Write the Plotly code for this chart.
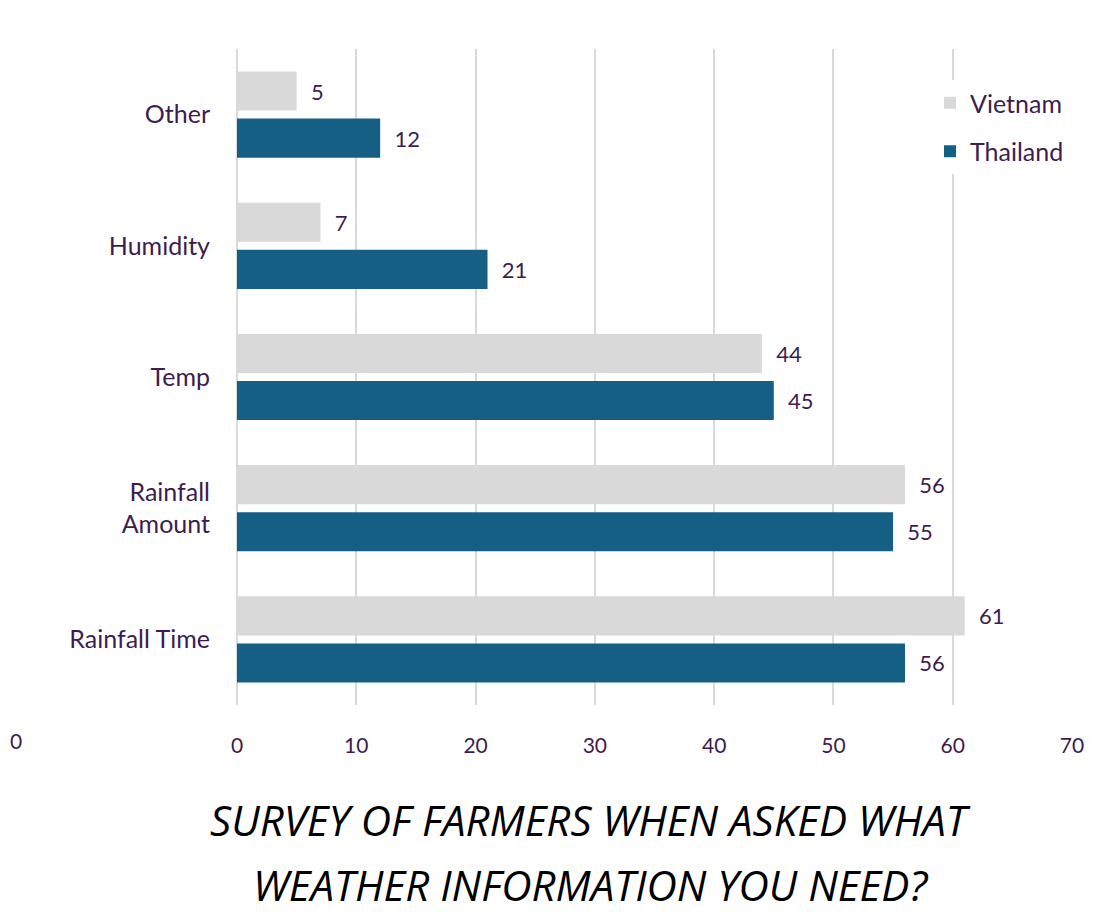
import plotly.graph_objects as go

categories = ["Rainfall Time", "Rainfall<br>Amount", "Temp", "Humidity", "Other"]
vietnam = [61, 56, 44, 7, 5]
thailand = [56, 55, 45, 21, 12]
x_ticks = [0, 10, 20, 30, 40, 50, 60, 70]

txt = "#3d1d4f"
W, H = 1078, 908
L, R, T, B = 229, 14, 41, 211
pw = W - L - R
ph = H - T - B

def px_x(fx):
    return (fx - L) / pw

def px_y(fy):
    return 1 - (fy - T) / ph

fig = go.Figure()
fig.add_trace(go.Bar(
    y=categories, x=thailand, orientation="h", name="Thailand",
    marker=dict(color="#155f85", line=dict(width=0)),
    text=thailand, texttemplate="\u00a0\u00a0%{x}", textposition="outside",
    textfont=dict(family="Lato", size=22, color=txt),
    legendgroup="t", legendrank=2, cliponaxis=False,
))
fig.add_trace(go.Bar(
    y=categories, x=vietnam, orientation="h", name="Vietnam",
    marker=dict(color="#d9d9d9", line=dict(width=0)),
    text=vietnam, texttemplate="\u00a0\u00a0%{x}", textposition="outside",
    textfont=dict(family="Lato", size=22, color=txt),
    legendgroup="v", legendrank=1, cliponaxis=False,
))

fig.update_layout(
    width=W, height=H,
    margin=dict(l=L, r=R, t=T, b=B, autoexpand=False),
    paper_bgcolor="white", plot_bgcolor="white",
    barmode="group", bargap=0.282, bargroupgap=0.17,
    font=dict(family="Lato", color=txt),
    showlegend=True,
    legend=dict(
        x=px_x(922), y=px_y(72), xanchor="left", yanchor="top",
        bgcolor="white", font=dict(size=25, color=txt, family="Lato"),
        traceorder="grouped", tracegroupgap=13,
        itemwidth=30,
    ),
    xaxis=dict(
        range=[0, 70], tickvals=x_ticks, ticktext=[str(v) for v in x_ticks],
        showgrid=True, gridcolor="#d9d9d9", gridwidth=1.5,
        zeroline=True, zerolinecolor="#d9d9d9", zerolinewidth=1.5,
        showline=False, ticks="outside", ticklen=22, tickcolor="rgba(0,0,0,0)",
        tickfont=dict(size=21, color=txt, family="Lato"),
        fixedrange=True, automargin=False,
    ),
    yaxis=dict(
        range=[-0.5, 4.5], showgrid=False, zeroline=False, showline=False,
        ticks="outside", ticklen=21, tickcolor="rgba(0,0,0,0)",
        tickfont=dict(size=25, color=txt, family="Lato"),
        automargin=False,
    ),
)

title_font = dict(family="Open Sans", size=42, color="#000000", style="italic")
fig.add_annotation(
    text="SURVEY OF FARMERS WHEN ASKED WHAT", xref="paper", yref="paper",
    x=px_x(582), y=px_y(811), xanchor="center", yanchor="middle",
    showarrow=False, font=title_font,
)
fig.add_annotation(
    text="WEATHER INFORMATION YOU NEED?", xref="paper", yref="paper",
    x=px_x(582), y=px_y(876), xanchor="center", yanchor="middle",
    showarrow=False, font=title_font,
)
# stray label at far left edge of the reference
fig.add_annotation(
    text="0", xref="paper", yref="paper",
    x=px_x(0), y=px_y(732), xanchor="left", yanchor="middle",
    showarrow=False, font=dict(family="Lato", size=21, color=txt),
)

fig.write_html("out.html")
